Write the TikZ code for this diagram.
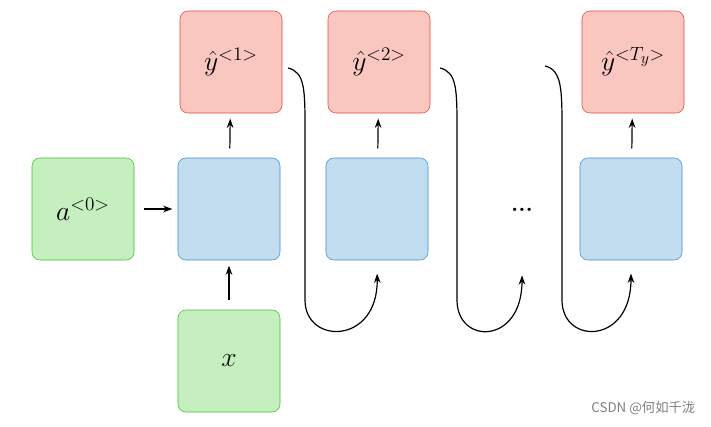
\documentclass[tikz,border=0pt]{standalone}
\usepackage{fontspec}
\newfontfamily\cjk{Noto Sans CJK SC}
\usetikzlibrary{arrows.meta}
\definecolor{gfill}{HTML}{C6EFC0}
\definecolor{gdraw}{HTML}{3FBF2C}
\definecolor{bfill}{HTML}{C2DDF0}
\definecolor{bdraw}{HTML}{3A8FD0}
\definecolor{rfill}{HTML}{F9C6C0}
\definecolor{rdraw}{HTML}{E8463C}
\tikzset{
  cell/.style={rounded corners=6pt, minimum width=76.5pt, minimum height=76.5pt, inner sep=0pt, font=\huge},
  inp/.style={cell, fill=gfill, draw=gdraw},
  hid/.style={cell, fill=bfill, draw=bdraw},
  outp/.style={cell, fill=rfill, draw=rdraw},
  arr/.style={-{Stealth[length=7pt, width=5pt]}, line width=0.9pt},
  short/.style={arr, shorten <=7pt, shorten >=4pt}
}
\begin{document}
\begin{tikzpicture}[x=0.75pt, y=-0.75pt]
  \useasboundingbox (0,0) rectangle (711,426);

  % input and hidden cells
  \node[inp] (a0) at (83,209) {$a^{<0>}$};
  \node[hid] (h1) at (229,209) {};
  \node[hid] (h2) at (377,209) {};
  \node[hid] (h3) at (631,209) {};
  \node[inp] (x) at (229,361) {$x$};
  \node[font=\LARGE\bfseries] (dots) at (522,210) {...};

  % output cells
  \node[outp] (y1) at (231,62) {$\hat{y}^{<1>}$};
  \node[outp] (y2) at (379,62) {$\hat{y}^{<2>}$};
  \node[outp] (y3) at (633,62) {$\hat{y}^{<T_y>}$};

  % straight arrows
  \draw[short] (a0) -- (h1);
  \draw[short] (x) -- (h1);
  \draw[short] (h1) -- (y1);
  \draw[short] (h2) -- (y2);
  \draw[short] (h3) -- (y3);

  % feedback curves
  \coordinate (c1) at (288,68);
  \coordinate (c2) at (440,68);
  \coordinate (c3) at (545,66);
  \coordinate (d2) at (522,262);
  \draw[arr, shorten >=10pt] (c1) .. controls (305,72) and (305,90) .. (305,130) -- (305,300)
    .. controls (305,345) and (378,345) .. (h2.south);
  \draw[arr, shorten >=10pt] (c2) .. controls (457,72) and (457,90) .. (457,130) -- (457,300)
    .. controls (457,345) and (522,345) .. (d2);
  \draw[arr, shorten >=10pt] (c3) .. controls (562,70) and (562,90) .. (562,130) -- (562,300)
    .. controls (562,345) and (631,345) .. (h3.south);

  \node[text=gray, font=\cjk\normalsize, anchor=east] (wm) at (700,408) {CSDN @何如千泷};
\end{tikzpicture}
\end{document}
